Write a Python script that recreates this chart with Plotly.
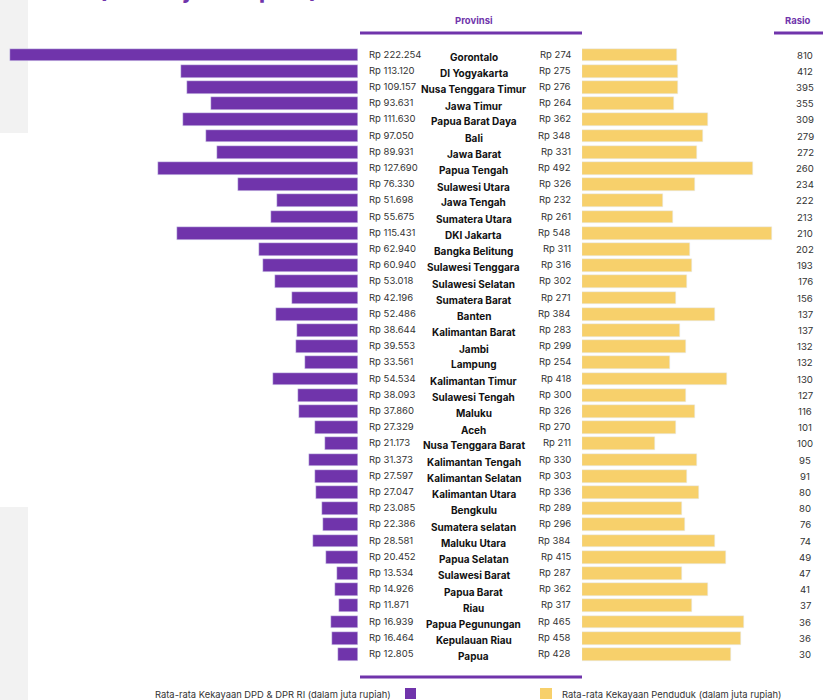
import plotly.graph_objects as go

provinsi = ["Gorontalo", "DI Yogyakarta", "Nusa Tenggara Timur", "Jawa Timur", "Papua Barat Daya",
            "Bali", "Jawa Barat", "Papua Tengah", "Sulawesi Utara", "Jawa Tengah", "Sumatera Utara",
            "DKI Jakarta", "Bangka Belitung", "Sulawesi Tenggara", "Sulawesi Selatan", "Sumatera Barat",
            "Banten", "Kalimantan Barat", "Jambi", "Lampung", "Kalimantan Timur", "Sulawesi Tengah",
            "Maluku", "Aceh", "Nusa Tenggara Barat", "Kalimantan Tengah", "Kalimantan Selatan",
            "Kalimantan Utara", "Bengkulu", "Sumatera selatan", "Maluku Utara", "Papua Selatan",
            "Sulawesi Barat", "Papua Barat", "Riau", "Papua Pegunungan", "Kepulauan Riau", "Papua"]
kekayaan_dpr = [222254, 113120, 109157, 93631, 111630, 97050, 89931, 127690, 76330, 51698, 55675,
                115431, 62940, 60940, 53018, 42196, 52486, 38644, 39553, 33561, 54534, 38093,
                37860, 27329, 21173, 31373, 27597, 27047, 23085, 22386, 28581, 20452,
                13534, 14926, 11871, 16939, 16464, 12805]
kekayaan_penduduk = [274, 275, 276, 264, 362, 348, 331, 492, 326, 232, 261, 548, 311, 316, 302, 271,
                     384, 283, 299, 254, 418, 300, 326, 270, 211, 330, 303, 336, 289, 296, 384, 415,
                     287, 362, 317, 465, 458, 428]
rasio = [810, 412, 395, 355, 309, 279, 272, 260, 234, 222, 213, 210, 202, 193, 176, 156, 137, 137,
         132, 132, 130, 127, 116, 101, 100, 95, 91, 80, 80, 76, 74, 49, 47, 41, 37, 36, 36, 30]

PURPLE = "#7034AB"
YELLOW = "#F7D06B"
W, H = 823, 700

def fmt(v):
    return "Rp " + f"{v:,}".replace(",", ".")

idx = list(range(len(provinsi)))

fig = go.Figure()
fig.add_trace(go.Bar(x=kekayaan_dpr, y=idx, orientation="h", marker_color=PURPLE,
                     width=0.8, xaxis="x", yaxis="y", hoverinfo="skip", showlegend=False))
fig.add_trace(go.Bar(x=kekayaan_penduduk, y=idx, orientation="h", marker_color=YELLOW,
                     width=0.8, xaxis="x2", yaxis="y", hoverinfo="skip", showlegend=False))

row_px0, row_step = 55.0, 16.2
y_top = -row_px0 / row_step
y_bot = y_top + H / row_step

VAL_FONT = dict(family="Inter", size=9.5, color="#333333")
ann = []
for i in idx:
    ann.append(dict(x=367 / W, y=i, xref="paper", yref="y", text=fmt(kekayaan_dpr[i]),
                    xanchor="left", yanchor="middle", showarrow=False, yshift=1, font=VAL_FONT))
    ann.append(dict(x=474 / W, y=i, xref="paper", yref="y", text="<b>" + provinsi[i] + "</b>",
                    xanchor="center", yanchor="middle", showarrow=False, yshift=-2,
                    font=dict(family="Inter", size=10, color="#111111")))
    ann.append(dict(x=573 / W, y=i, xref="paper", yref="y", text=fmt(kekayaan_penduduk[i]),
                    xanchor="right", yanchor="middle", showarrow=False, yshift=1, font=VAL_FONT))
    ann.append(dict(x=805 / W, y=i, xref="paper", yref="y", text=str(rasio[i]),
                    xanchor="center", yanchor="middle", showarrow=False,
                    font=dict(family="Inter", size=9.6, color="#333333")))

def px(x, y):
    return x / W, 1 - y / H

# headers
for txt, x in [("Provinsi", 474), ("Rasio", 798)]:
    ax, ay = px(x, 20)
    ann.append(dict(x=ax, y=ay, xref="paper", yref="paper", text="<b>" + txt + "</b>",
                    xanchor="center", yanchor="middle", showarrow=False,
                    font=dict(family="Inter", size=9.5, color=PURPLE)))
# cut-off title
ax, ay = px(208, 5.5)
ann.append(dict(x=ax, y=ay, xref="paper", yref="paper", text="<b>(dalam juta rupiah)</b>",
                xanchor="center", yanchor="bottom", showarrow=False,
                font=dict(family="Inter", size=24, color=PURPLE)))
# legend texts
ax, ay = px(393, 694)
ann.append(dict(x=ax, y=ay, xref="paper", yref="paper",
                text="Rata-rata Kekayaan DPD & DPR RI (dalam juta rupiah)",
                xanchor="right", yanchor="middle", showarrow=False,
                font=dict(family="Inter", size=9.4, color="#333333")))
ax, ay = px(560, 694)
ann.append(dict(x=ax, y=ay, xref="paper", yref="paper",
                text="Rata-rata Kekayaan Penduduk (dalam juta rupiah)",
                xanchor="left", yanchor="middle", showarrow=False,
                font=dict(family="Inter", size=9.4, color="#333333")))

def rect(x0, y0, x1, y1, color, layer="below"):
    a0, b0 = px(x0, y0)
    a1, b1 = px(x1, y1)
    return dict(type="rect", xref="paper", yref="paper", x0=a0, x1=a1, y0=b1, y1=b0,
                fillcolor=color, line_width=0, layer=layer)

def hline(x0, x1, y, color, w=3):
    a0, b = px(x0, y)
    a1, _ = px(x1, y)
    return dict(type="line", xref="paper", yref="paper", x0=a0, x1=a1, y0=b, y1=b,
                line=dict(color=color, width=w))

shapes = [
    rect(0, 0, 28, 133, "#F2F2F2"),
    rect(0, 507, 28, 700, "#F2F2F2"),
    hline(360, 582, 33, PURPLE),
    hline(774, 823, 33, PURPLE),
    hline(360, 582, 677, PURPLE),
    rect(405, 688, 416, 699, PURPLE, "above"),
    rect(540, 688, 552, 699, YELLOW, "above"),
]

fig.update_layout(
    width=W, height=H,
    margin=dict(l=0, r=0, t=0, b=0),
    paper_bgcolor="white", plot_bgcolor="rgba(0,0,0,0)",
    bargap=0,
    xaxis=dict(domain=[0, 358 / W], range=[228600, 0], visible=False, fixedrange=True),
    xaxis2=dict(domain=[582 / W, 1], range=[0, 241 / 0.3475], visible=False, anchor="y",
                fixedrange=True),
    yaxis=dict(range=[y_bot, y_top], visible=False, fixedrange=True),
    annotations=ann,
    shapes=shapes,
)

fig.write_html("out.html", config={"displayModeBar": False},
               post_script="document.body.style.margin='0';document.body.style.overflow='hidden';")
